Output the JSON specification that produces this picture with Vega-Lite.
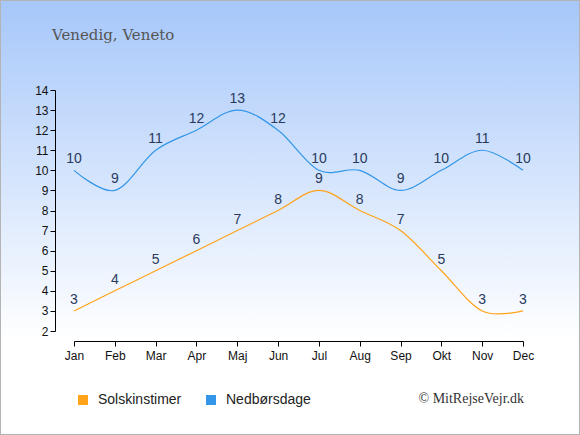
{
  "$schema": "https://vega.github.io/schema/vega-lite/v6.json",
  "width": 580,
  "height": 435,
  "autosize": "none",
  "padding": 0,
  "background": "#ffffff",
  "config": {
    "view": {
      "fill": {"gradient": "linear", "x1": 0, "y1": 0, "x2": 0, "y2": 1,
        "stops": [{"offset": 0, "color": "#a6c7fa"}, {"offset": 0.78, "color": "#ffffff"}]},
      "stroke": "#b4b4b4",
      "strokeWidth": 2
    },
    "axis": {
      "labelFont": "Liberation Sans",
      "labelFontSize": 12,
      "labelColor": "#111111",
      "domainColor": "#000000",
      "tickColor": "#000000",
      "tickSize": 5,
      "grid": false
    }
  },
  "title": {
    "text": "Venedig, Veneto",
    "anchor": "start",
    "frame": "group",
    "font": "DejaVu Serif",
    "fontSize": 15,
    "fontWeight": "normal",
    "color": "#555555",
    "dx": 52,
    "dy": 47
  },
  "data": {
    "values": [
      {"month": "Jan", "series": "Solskinstimer", "value": 3},
      {"month": "Feb", "series": "Solskinstimer", "value": 4},
      {"month": "Mar", "series": "Solskinstimer", "value": 5},
      {"month": "Apr", "series": "Solskinstimer", "value": 6},
      {"month": "Maj", "series": "Solskinstimer", "value": 7},
      {"month": "Jun", "series": "Solskinstimer", "value": 8},
      {"month": "Jul", "series": "Solskinstimer", "value": 9},
      {"month": "Aug", "series": "Solskinstimer", "value": 8},
      {"month": "Sep", "series": "Solskinstimer", "value": 7},
      {"month": "Okt", "series": "Solskinstimer", "value": 5},
      {"month": "Nov", "series": "Solskinstimer", "value": 3},
      {"month": "Dec", "series": "Solskinstimer", "value": 3},
      {"month": "Jan", "series": "Nedbørsdage", "value": 10},
      {"month": "Feb", "series": "Nedbørsdage", "value": 9},
      {"month": "Mar", "series": "Nedbørsdage", "value": 11},
      {"month": "Apr", "series": "Nedbørsdage", "value": 12},
      {"month": "Maj", "series": "Nedbørsdage", "value": 13},
      {"month": "Jun", "series": "Nedbørsdage", "value": 12},
      {"month": "Jul", "series": "Nedbørsdage", "value": 10},
      {"month": "Aug", "series": "Nedbørsdage", "value": 10},
      {"month": "Sep", "series": "Nedbørsdage", "value": 9},
      {"month": "Okt", "series": "Nedbørsdage", "value": 10},
      {"month": "Nov", "series": "Nedbørsdage", "value": 11},
      {"month": "Dec", "series": "Nedbørsdage", "value": 10}
    ]
  },
  "encoding": {
    "x": {
      "field": "month",
      "type": "ordinal",
      "sort": ["Jan", "Feb", "Mar", "Apr", "Maj", "Jun", "Jul", "Aug", "Sep", "Okt", "Nov", "Dec"],
      "scale": {"type": "point", "range": [74, 523], "padding": 0},
      "axis": {
        "offset": -94,
        "labelAngle": 0,
        "labelPadding": 4,
        "title": "© MitRejseVejr.dk",
        "titleFont": "Liberation Serif",
        "titleFontSize": 14,
        "titleFontWeight": "normal",
        "titleColor": "#333333",
        "titleAlign": "left",
        "titleBaseline": "alphabetic",
        "titleX": 418,
        "titleY": 61
      }
    },
    "y": {
      "field": "value",
      "type": "quantitative",
      "scale": {"domain": [2, 14], "range": [331, 90], "nice": false, "zero": false},
      "axis": {
        "offset": -55,
        "values": [2, 3, 4, 5, 6, 7, 8, 9, 10, 11, 12, 13, 14],
        "labelPadding": 2,
        "title": null
      }
    }
  },
  "layer": [
    {
      "mark": {"type": "line", "interpolate": "cardinal", "strokeWidth": 1.2},
      "encoding": {
        "color": {
          "field": "series",
          "type": "nominal",
          "scale": {"domain": ["Solskinstimer", "Nedbørsdage"], "range": ["#ffa31a", "#3396e8"]},
          "legend": {
            "title": null,
            "orient": "none",
            "direction": "horizontal",
            "legendX": 76,
            "legendY": 393,
            "symbolType": "square",
            "symbolSize": 100,
            "symbolStrokeWidth": 0,
            "labelFont": "Liberation Sans",
            "labelFontSize": 14,
            "labelColor": "#222222",
            "labelOffset": 8,
            "columnPadding": 22,
            "encode": {
              "symbols": {"update": {"fill": {"scale": "color", "field": "value"}, "strokeWidth": {"value": 0}}}
            }
          }
        }
      }
    },
    {
      "mark": {"type": "text", "dy": -7, "baseline": "alphabetic", "font": "Liberation Sans", "fontSize": 14, "color": "#2a3a5c"},
      "encoding": {
        "text": {"field": "value", "type": "quantitative"}
      }
    }
  ]
}
